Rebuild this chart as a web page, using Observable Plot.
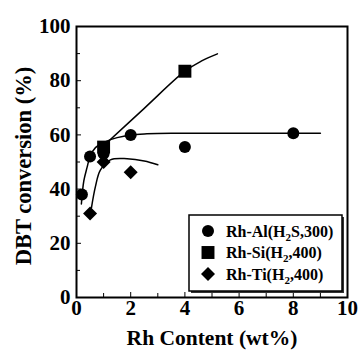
<!DOCTYPE html>
<html><head><meta charset="utf-8">
<script src="https://cdn.jsdelivr.net/npm/d3@7"></script>
<script src="https://cdn.jsdelivr.net/npm/@observablehq/plot@0.6"></script>
<style>
body{margin:0;background:#fff;}
#chart{position:relative;width:358px;height:350px;}
#chart svg text{font-family:"Liberation Serif","Times New Roman",serif !important;}
</style></head><body><div id="chart"></div>
<script>
// measured points
const alX = [0.2, 0.5, 1, 2, 4, 8];
const alY = [38, 52, 53, 60, 55.5, 60.6];
const siX = [1, 4];
const siY = [55.5, 83.5];
const tiX = [0.5, 1, 2];
const tiY = [31, 50, 46.2];
// hand-drawn guide curves
const alCurveX = [0.18, 0.27, 0.39, 0.5, 0.7, 1.1, 1.5, 2, 2.6, 3.5, 5, 7, 9];
const alCurveY = [34.5, 43, 48, 52, 55.3, 57.6, 59, 60, 60.4, 60.6, 60.6, 60.6, 60.6];
const siCurveX = [1, 2.5, 4, 4.6, 5.2];
const siCurveY = [56, 69.8, 83.5, 87.2, 89.9];
const tiCurveX = [0.55, 0.7, 0.88, 1.25, 1.87, 2.5, 3];
const tiCurveY = [33, 41, 47, 50.8, 51.2, 50.4, 49];
const xTicks = [0, 2, 4, 6, 8, 10];
const xMinor = [1, 3, 5, 7, 9];
const yTicks = [0, 20, 40, 60, 80, 100];
const yMinor = [10, 30, 50, 70, 90];
const seriesNames = ["Rh-Al(H|2|S,300)", "Rh-Si(H|2|,400)", "Rh-Ti(H|2|,400)"];

const FONT = "Liberation Serif, Times New Roman, serif";
const W = 358, H = 350, mL = 76, mR = 11, mT = 26, mB = 53;
const fw = W - mL - mR, fh = H - mT - mB;

const diamond = {
  draw(ctx, size) {
    const h = Math.sqrt(size / Math.PI);
    ctx.moveTo(0, -h); ctx.lineTo(h, 0); ctx.lineTo(0, h); ctx.lineTo(-h, 0); ctx.closePath();
  }
};

const zip = (xs, ys) => xs.map((x, i) => ({x, y: ys[i]}));
const txt = {fontWeight: "bold", fontFamily: FONT, fill: "black"};

const plot = Plot.plot({
  width: W, height: H,
  marginLeft: mL, marginRight: mR, marginTop: mT, marginBottom: mB,
  style: {fontFamily: FONT, background: "white"},
  x: {domain: [0, 10], axis: null},
  y: {domain: [0, 100], axis: null},
  marks: [
    Plot.line(zip(alCurveX, alCurveY), {x: "x", y: "y", curve: "catmull-rom", stroke: "black", strokeWidth: 1.5}),
    Plot.line(zip(siCurveX, siCurveY), {x: "x", y: "y", curve: "catmull-rom", stroke: "black", strokeWidth: 1.5}),
    Plot.line(zip(tiCurveX, tiCurveY), {x: "x", y: "y", curve: "catmull-rom", stroke: "black", strokeWidth: 1.5}),
    Plot.dot(zip(alX, alY), {x: "x", y: "y", r: 6, symbol: "circle", fill: "black", stroke: "none"}),
    Plot.dot(zip(siX, siY), {x: "x", y: "y", r: 7.3, symbol: "square", fill: "black", stroke: "none"}),
    Plot.dot(zip(tiX, tiY), {x: "x", y: "y", r: 7, symbol: diamond, fill: "black", stroke: "none"}),
    Plot.tickY(yTicks, {y: d => d, insetRight: fw - 5, stroke: "black", strokeWidth: 1}),
    Plot.tickY(yMinor, {y: d => d, insetRight: fw - 4, stroke: "black", strokeWidth: 1}),
    Plot.tickX(xTicks, {x: d => d, insetTop: fh - 5, stroke: "black", strokeWidth: 1}),
    Plot.tickX(xMinor, {x: d => d, insetTop: fh - 4, stroke: "black", strokeWidth: 1}),
    Plot.frame({stroke: "black", strokeWidth: 2}),
    Plot.text(yTicks, {y: d => d, text: d => String(d), frameAnchor: "left", textAnchor: "end", lineAnchor: "middle", dx: -6, fontSize: 21, ...txt}),
    Plot.text(xTicks, {x: d => d, text: d => String(d), frameAnchor: "bottom", textAnchor: "middle", lineAnchor: "top", dy: 3, fontSize: 21, ...txt}),
    Plot.text(["Rh Content (wt%)"], {frameAnchor: "bottom", dy: 41, fontSize: 21.5, textAnchor: "middle", lineAnchor: "middle", ...txt}),
    Plot.text(["DBT conversion (%)"], {frameAnchor: "left", dx: -53, dy: 4, rotate: -90, fontSize: 22.5, textAnchor: "middle", lineAnchor: "middle", ...txt})
  ]
});
document.getElementById("chart").appendChild(plot);

// legend box
const svg = d3.select(plot);
const lg = svg.append("g");
const bx = 189, by = 215, bw = 153, bh = 76;
lg.append("rect").attr("x", bx + 2).attr("y", by + 2).attr("width", bw).attr("height", bh).attr("fill", "#333");
lg.append("rect").attr("x", bx).attr("y", by).attr("width", bw).attr("height", bh).attr("fill", "white").attr("stroke", "black").attr("stroke-width", 1.5);
const syms = [d3.symbol(d3.symbolCircle, Math.PI * 36), d3.symbol(d3.symbolSquare, Math.PI * 7.3 * 7.3), d3.symbol(diamond, Math.PI * 49)];
const rowY = [231, 252.5, 274];
seriesNames.forEach((name, i) => {
  lg.append("path").attr("d", syms[i]()).attr("transform", `translate(208,${rowY[i]})`).attr("fill", "black");
  const parts = name.split("|");
  const t = lg.append("text").attr("x", 226).attr("y", rowY[i] + 5.5)
    .attr("font-size", 16).attr("font-weight", "bold").attr("font-family", FONT)
    .attr("text-anchor", "start").attr("fill", "black");
  t.append("tspan").text(parts[0]);
  t.append("tspan").text(parts[1]).attr("font-size", 11).attr("dy", 4);
  t.append("tspan").text(parts[2]).attr("dy", -4);
});
</script></body></html>
